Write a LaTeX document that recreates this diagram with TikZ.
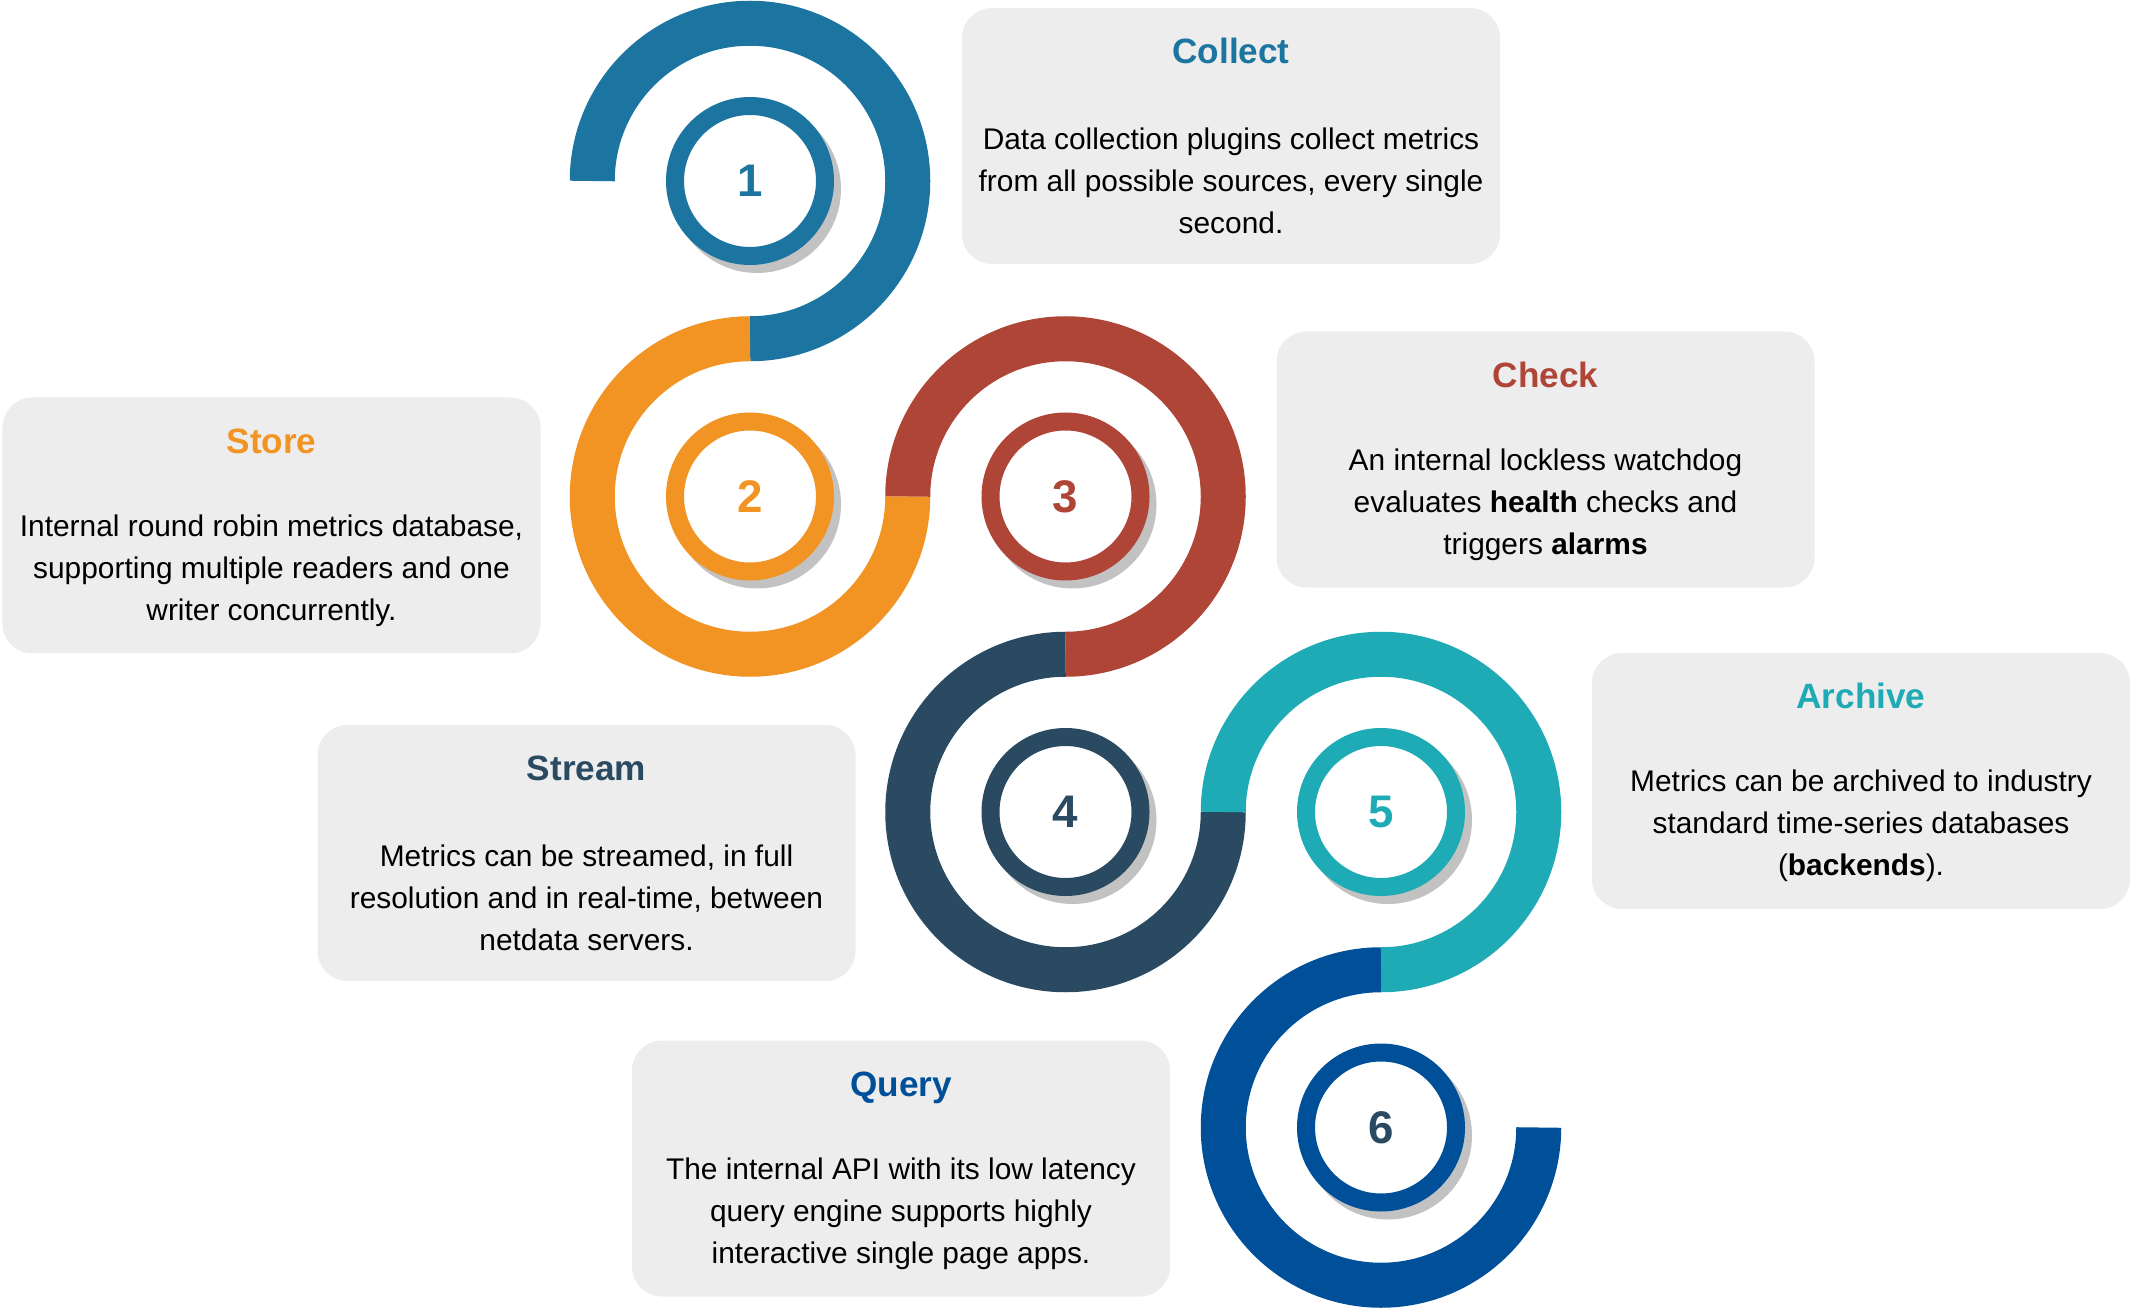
\documentclass[tikz,border=0pt]{standalone}
\usepackage{fontspec}
\setmainfont{Liberation Sans}
\usepackage{tikz}
\usetikzlibrary{calc,positioning}
\definecolor{cblue}{HTML}{1C75A0}
\definecolor{corange}{HTML}{F29424}
\definecolor{cred}{HTML}{AE4537}
\definecolor{cnavy}{HTML}{2A4A62}
\definecolor{cteal}{HTML}{1EABB5}
\definecolor{croyal}{HTML}{004F99}
\definecolor{boxgray}{HTML}{EDEDED}
\definecolor{shadowgray}{HTML}{C2C2C2}
\tikzstyle{Ring} = [circle, minimum size=1.5cm, line width=0.18cm, fill=white, inner sep=0pt, font=\fontsize{13}{15}\selectfont\bfseries]
\tikzstyle{Band} = [line width=0.45cm]
\tikzstyle{Shade} = [fill=shadowgray]
\tikzstyle{Box} = [rectangle, rounded corners=0.3cm, fill=boxgray, minimum width=5.38cm, minimum height=2.56cm]
\tikzstyle{Title} = [inner sep=0pt, text height=7.2pt, text depth=0pt, font=\fontsize{10}{12}\selectfont\bfseries]
\tikzstyle{Text} = [inner sep=0pt, align=center, font=\fontsize{8.5}{11.95}\selectfont]
\pgfdeclarelayer{background}
\pgfsetlayers{background,main}

\begin{document}
\begin{tikzpicture}[node distance=3.155cm]
\useasboundingbox (0,0) rectangle (21.33,-13.08);

\node (One)[Ring, draw=cblue, text=cblue] at (7.50,-1.81) {1};
\node (Two)[Ring, draw=corange, text=corange, below of = One]{2};
\node (Three)[Ring, draw=cred, text=cred, right of = Two]{3};
\node (Four)[Ring, draw=cnavy, text=cnavy, below of = Three]{4};
\node (Five)[Ring, draw=cteal, text=cteal, right of = Four]{5};
\node (Six)[Ring, draw=croyal, text=cnavy, below of = Five]{6};

\begin{pgfonlayer}{background}
\fill[Shade] ($(One.center)+(0.07,-0.08)$) circle (0.84);
\fill[Shade] ($(Two.center)+(0.07,-0.08)$) circle (0.84);
\fill[Shade] ($(Three.center)+(0.07,-0.08)$) circle (0.84);
\fill[Shade] ($(Four.center)+(0.07,-0.08)$) circle (0.84);
\fill[Shade] ($(Five.center)+(0.07,-0.08)$) circle (0.84);
\fill[Shade] ($(Six.center)+(0.07,-0.08)$) circle (0.84);
\end{pgfonlayer}

\draw[Band, cblue] (One.center) ++(-1.5775,0) arc[start angle=180, end angle=-90, radius=1.5775];
\draw[Band, corange] (Two.center) ++(0,1.5775) arc[start angle=90, end angle=360, radius=1.5775];
\draw[Band, cred] (Three.center) ++(-1.5775,0) arc[start angle=180, end angle=-90, radius=1.5775];
\draw[Band, cnavy] (Four.center) ++(0,1.5775) arc[start angle=90, end angle=360, radius=1.5775];
\draw[Band, cteal] (Five.center) ++(-1.5775,0) arc[start angle=180, end angle=-90, radius=1.5775];
\draw[Band, croyal] (Six.center) ++(0,1.5775) arc[start angle=90, end angle=360, radius=1.5775];

\node (Collect)[Box, right of = One, xshift=1.655cm, yshift=0.45cm]{};
\node (Check)[Box, right of = Three, xshift=1.645cm, yshift=0.37cm]{};
\node (Archive)[Box, right of = Five, xshift=1.645cm, yshift=0.31cm]{};
\node (Store)[Box, left of = Two, xshift=-1.63cm, yshift=-0.29cm]{};
\node (Stream)[Box, left of = Four, xshift=-1.635cm, yshift=-0.41cm]{};
\node (Query)[Box, left of = Six, xshift=-1.645cm, yshift=-0.41cm]{};

\node (Collect Title)[Title, text=cblue, node distance=0.85cm, above of = Collect]{Collect};
\node (Collect Text)[Text, node distance=0.45cm, below of = Collect]{Data collection plugins collect metrics \\
from all possible sources, every single \\
second.};
\node (Check Title)[Title, text=cred, node distance=0.85cm, above of = Check]{Check};
\node (Check Text)[Text, node distance=0.45cm, below of = Check]{An internal lockless watchdog \\
evaluates \textbf{health} checks and \\
triggers \textbf{alarms}};
\node (Archive Title)[Title, text=cteal, node distance=0.85cm, above of = Archive]{Archive};
\node (Archive Text)[Text, node distance=0.45cm, below of = Archive]{Metrics can be archived to industry \\
standard time-series databases \\
(\textbf{backends}).};
\node (Store Title)[Title, text=corange, node distance=0.85cm, above of = Store]{Store};
\node (Store Text)[Text, node distance=0.45cm, below of = Store]{Internal round robin metrics database, \\
supporting multiple readers and one \\
writer concurrently.};
\node (Stream Title)[Title, text=cnavy, node distance=0.85cm, above of = Stream]{Stream};
\node (Stream Text)[Text, node distance=0.45cm, below of = Stream]{Metrics can be streamed, in full \\
resolution and in real-time, between \\
netdata servers.};
\node (Query Title)[Title, text=croyal, node distance=0.85cm, above of = Query]{Query};
\node (Query Text)[Text, node distance=0.45cm, below of = Query]{The internal API with its low latency \\
query engine supports highly \\
interactive single page apps.};

\end{tikzpicture}
\end{document}
